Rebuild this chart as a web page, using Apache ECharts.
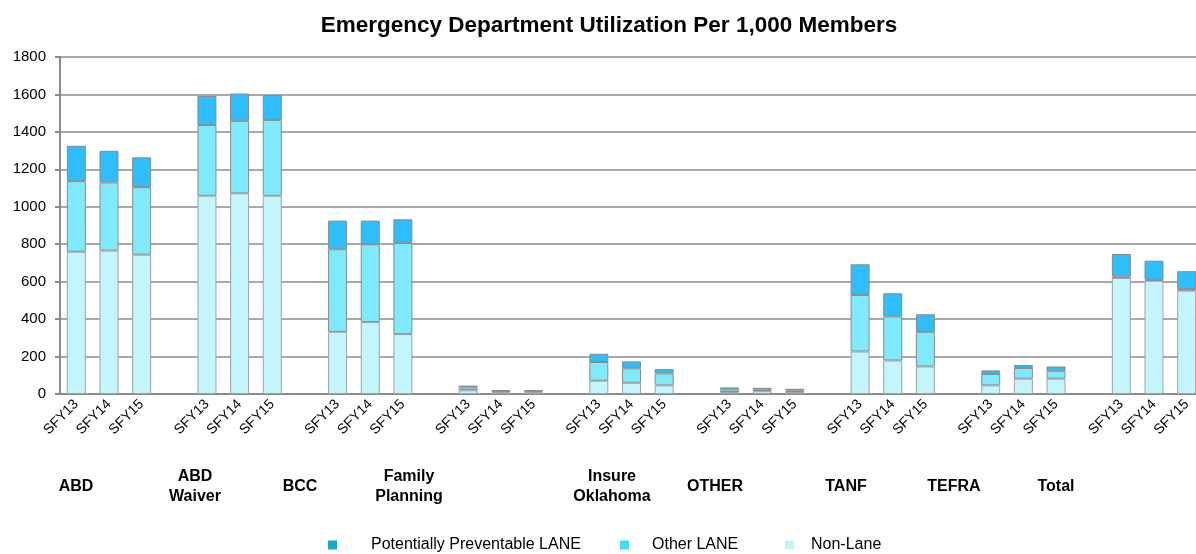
<!DOCTYPE html>
<html>
<head>
<meta charset="utf-8">
<title>Emergency Department Utilization</title>
<script src="https://cdn.jsdelivr.net/npm/echarts@6/dist/echarts.min.js"></script>
<style>
    html, body { margin: 0; padding: 0; background: #fff; }
    #chart { width: 1196px; height: 554px; }
</style>
</head>
<body>
<div id="chart"></div>
<script>
// 数据部分
var groups = ['ABD', 'ABD\nWaiver', 'BCC', 'Family\nPlanning', 'Insure\nOklahoma', 'OTHER', 'TANF', 'TEFRA', 'Total'];
var years = ['SFY13', 'SFY14', 'SFY15'];
// 每组三年的数值, 顺序同 groups
var nonLane = [760, 766, 744, 1059, 1072, 1059, 332, 384, 320, 20, 8, 8, 71, 60, 46, 11, 15, 11, 227, 179, 147, 46, 82, 82, 620, 605, 552];
var otherLane = [377, 364, 361, 378, 387, 405, 441, 416, 487, 15, 7, 7, 100, 77, 64, 14, 8, 7, 302, 235, 185, 61, 57, 42, 8, 5, 8];
var preventable = [189, 169, 159, 155, 146, 133, 153, 126, 126, 10, 6, 5, 44, 37, 23, 10, 10, 10, 164, 124, 94, 19, 16, 23, 120, 102, 96];
var yTicks = [0, 200, 400, 600, 800, 1000, 1200, 1400, 1600, 1800];
var seriesNames = ['Potentially Preventable LANE', 'Other LANE', 'Non-Lane'];

// 组标签的位置 (原图是手工放的文本框)
var groupLabelX = [76, 195, 300, 409, 612, 715, 846, 954, 1056];

(function () {
    var font = 'Liberation Sans, Arial, sans-serif';

    // 构造类目: 每组3个年份 + 1个空位
    var categories = [];
    var slotIndex = [];
    for (var g = 0; g < groups.length; g++) {
        for (var y = 0; y < years.length; y++) {
            slotIndex.push(categories.length);
            categories.push(g + '|' + years[y]);
        }
        if (g < groups.length - 1) {
            categories.push(g + '|gap');
        }
    }

    function toSlots(values) {
        var arr = [];
        for (var i = 0; i < categories.length; i++) arr.push('-');
        for (var k = 0; k < values.length; k++) arr[slotIndex[k]] = values[k];
        return arr;
    }

    var myChart = echarts.init(document.getElementById('chart'));

    // 下方的组名
    var groupTexts = groups.map(function (name, i) {
        return {
            type: 'text',
            x: groupLabelX[i],
            y: 487,
            style: {
                text: name,
                fontFamily: font,
                fontSize: 16,
                fontWeight: 'bold',
                fill: '#000',
                lineHeight: 20,
                textAlign: 'center',
                textVerticalAlign: 'middle'
            }
        };
    });

    // 图例: 原图每项的间距不一样, 分成三个 legend
    var legendColors = ['#17a9c8', '#40dcfa', '#c2f3fb'];
    var legendLeft = [328, 620, 785];
    var legendPad = [29, 18, 12];
    var legends = seriesNames.map(function (name, i) {
        return {
            left: legendLeft[i],
            top: 537,
            padding: 0,
            itemWidth: 9,
            itemHeight: 9,
            icon: 'rect',
            data: [{ name: name, itemStyle: { color: legendColors[i], borderWidth: 0 } }],
            formatter: function (n) {
                return '{t|' + n + '}';
            },
            textStyle: {
                color: '#000',
                fontSize: 16,
                fontFamily: font,
                rich: {
                    t: { padding: [0, 0, 0, legendPad[i]], fontSize: 16, color: '#000', fontFamily: font }
                }
            }
        };
    });

    var barBorder = { borderColor: '#8a8a8a', borderWidth: 1 };

    var option = {
        animation: false,
        textStyle: { fontFamily: font },
        title: {
            text: 'Emergency Department Utilization Per 1,000 Members',
            left: 604,
            top: 9,
            textAlign: 'center',
            textStyle: {
                fontSize: 22.5,
                fontWeight: 'bold',
                color: '#000',
                fontFamily: font
            }
        },
        legend: legends,
        grid: {
            left: 60,
            right: -7,
            top: 57,
            bottom: 160,
            outerBoundsMode: 'none',
            containLabel: false
        },
        xAxis: {
            type: 'category',
            data: categories,
            axisTick: { show: false },
            axisLine: { lineStyle: { color: '#8c8c8c', width: 2 } },
            axisLabel: {
                interval: 0,
                rotate: 45,
                fontSize: 14,
                color: '#000',
                margin: 8,
                formatter: function (v) {
                    var p = v.split('|')[1];
                    return p === 'gap' ? '' : p;
                }
            }
        },
        yAxis: {
            type: 'value',
            min: yTicks[0],
            max: yTicks[yTicks.length - 1],
            interval: yTicks[1] - yTicks[0],
            axisLine: { show: true, lineStyle: { color: '#8c8c8c', width: 2 } },
            axisTick: { show: true, length: 5, lineStyle: { color: '#8c8c8c', width: 2 } },
            axisLabel: {
                fontSize: 15,
                color: '#000',
                margin: 14,
                formatter: function (v) {
                    return String(v);
                }
            },
            splitLine: { lineStyle: { color: '#8c8c8c', width: 1.5 } }
        },
        series: [
            {
                name: 'Non-Lane',
                type: 'bar',
                stack: 'ed',
                barWidth: 19,
                itemStyle: Object.assign({ color: '#c4f5fd' }, barBorder, { borderColor: '#9aa4a6' }),
                data: toSlots(nonLane)
            },
            {
                name: 'Other LANE',
                type: 'bar',
                stack: 'ed',
                barWidth: 19,
                itemStyle: Object.assign({ color: '#80eafd' }, barBorder),
                data: toSlots(otherLane)
            },
            {
                name: 'Potentially Preventable LANE',
                type: 'bar',
                stack: 'ed',
                barWidth: 19,
                itemStyle: Object.assign({ color: '#2ebefd' }, barBorder),
                data: toSlots(preventable)
            }
        ],
        graphic: groupTexts
    };

    myChart.setOption(option);
    window.addEventListener('resize', function () {
        myChart.resize();
    });
})();
</script>
</body>
</html>
